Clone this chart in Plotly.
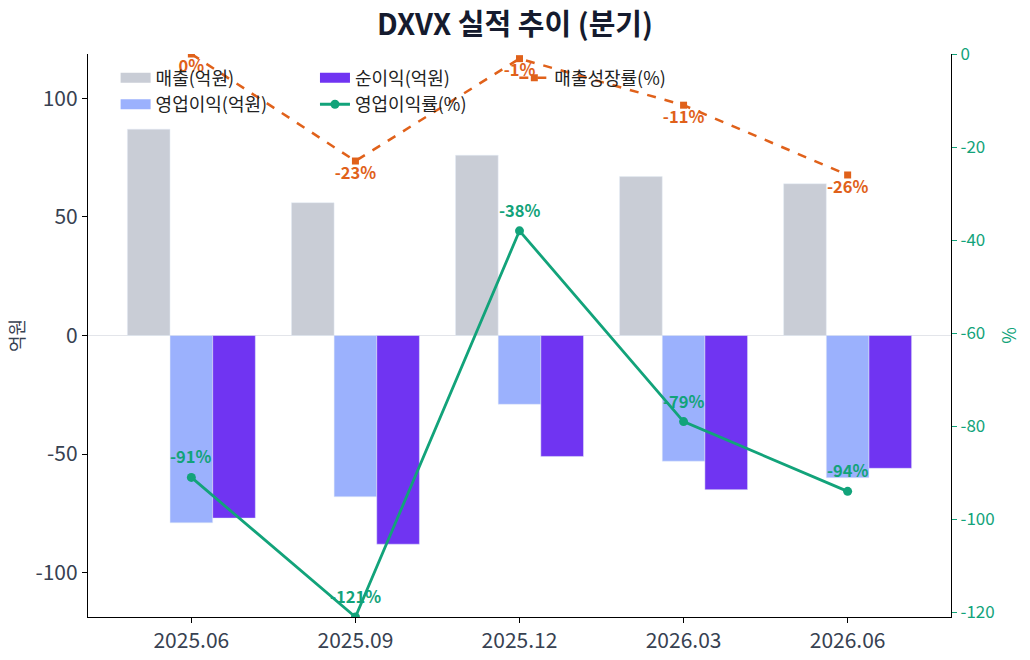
import plotly.graph_objects as go

quarters = ["2025.06", "2025.09", "2025.12", "2026.03", "2026.06"]
revenue = [87, 56, 76, 67, 64]
op_income = [-79, -68, -29, -53, -60]
net_income = [-77, -88, -51, -65, -56]
op_margin = [-91, -121, -38, -79, -94]
rev_growth = [0, -23, -1, -11, -26]

left_ticks = [-100, -50, 0, 50, 100]
right_ticks = [0, -20, -40, -60, -80, -100, -120]

FONT = "Noto Sans CJK KR"
GREEN = "#12a37a"
ORANGE = "#e0611a"
bar_series = [
    ("매출(억원)", revenue, "#c9cdd6", "legend"),
    ("영업이익(억원)", op_income, "#9bb1fd", "legend"),
    ("순이익(억원)", net_income, "#7034f2", "legend2"),
]

fig = go.Figure()

for name, vals, color, leg in bar_series:
    fig.add_trace(go.Bar(x=quarters, y=vals, name=name, marker_color=color,
                         showlegend=False))
    # wide flat swatch for the legend, like the reference's patches
    fig.add_trace(go.Scatter(x=[None], y=[None], name=name, mode="lines",
                             line=dict(color=color, width=14), legend=leg))

fig.add_trace(go.Scatter(
    x=quarters, y=op_margin, name="영업이익률(%)", yaxis="y2",
    mode="lines+markers",
    line=dict(color=GREEN, width=2.8),
    marker=dict(symbol="circle", size=9, color=GREEN),
    legend="legend2",
))
fig.add_trace(go.Scatter(
    x=quarters, y=rev_growth, name="매출성장률(%)", yaxis="y2",
    mode="lines+markers+text",
    line=dict(color=ORANGE, width=2.5, dash="dash"),
    marker=dict(symbol="square", size=7, color=ORANGE),
    text=[f"{v}%" for v in rev_growth], textposition="bottom center",
    textfont=dict(family=FONT, size=16.5, color=ORANGE, weight="bold"),
    legend="legend3",
))

# margin labels sit a little higher above the points than plotly's default
for i, v in enumerate(op_margin):
    fig.add_annotation(x=i, y=v, xref="x", yref="y2", text=f"<b>{v}%</b>",
                       showarrow=False, yshift=21,
                       font=dict(family=FONT, size=16.5, color=GREEN))

legend_style = dict(
    font=dict(family=FONT, size=18, color="#222222"),
    bgcolor="rgba(255,255,255,0)",
    xanchor="left", yanchor="top", tracegroupgap=0,
)

fig.update_layout(
    width=1030, height=660,
    paper_bgcolor="white", plot_bgcolor="white",
    margin=dict(l=88, r=79, t=54, b=43, autoexpand=False),
    font=dict(family=FONT, color="#374151"),
    title=dict(text="<b>DXVX 실적 추이 (분기)</b>", x=0.5, xanchor="center",
               y=0.963, yanchor="middle",
               font=dict(family=FONT, size=29, color="#151b2e")),
    barmode="group", bargap=0.22, bargroupgap=0,
    xaxis=dict(type="category", range=[-0.63, 4.63], showline=True,
               linecolor="black", linewidth=1.2, ticks="outside", ticklen=5,
               tickcolor="black",
               tickfont=dict(size=21, color="#374151"), showgrid=False,
               zeroline=False, automargin=False),
    yaxis=dict(range=[-118.7, 118.7], tickvals=left_ticks,
               ticktext=[str(t) for t in left_ticks],
               showline=True, linecolor="black", linewidth=1.2,
               ticks="outside", ticklen=5, tickcolor="black",
               tickfont=dict(size=21, color="#374151"), showgrid=False,
               zeroline=True, zerolinecolor="#e3e5ea", zerolinewidth=1,
               automargin=False,
               title=dict(text="억원", font=dict(size=18, color="#374151"),
                          standoff=6)),
    yaxis2=dict(range=[-121, 0], overlaying="y", side="right",
                tickvals=right_ticks, ticktext=[str(t) for t in right_ticks],
                showline=True, linecolor="black", linewidth=1.2,
                ticks="outside", ticklen=5, tickcolor=GREEN,
                tickfont=dict(size=17, color=GREEN), showgrid=False,
                zeroline=False, automargin=False,
                title=dict(text="%", font=dict(size=18, color=GREEN),
                           standoff=9)),
    legend=dict(x=0.032, y=0.99, **legend_style),
    legend2=dict(x=0.263, y=0.99, **legend_style),
    legend3=dict(x=0.494, y=0.99, **legend_style),
)

# drop the default 8px page margin so the figure sits at the window corner
fig.write_html("out.html", config={"displayModeBar": False},
               post_script="document.body.style.margin='0';")
